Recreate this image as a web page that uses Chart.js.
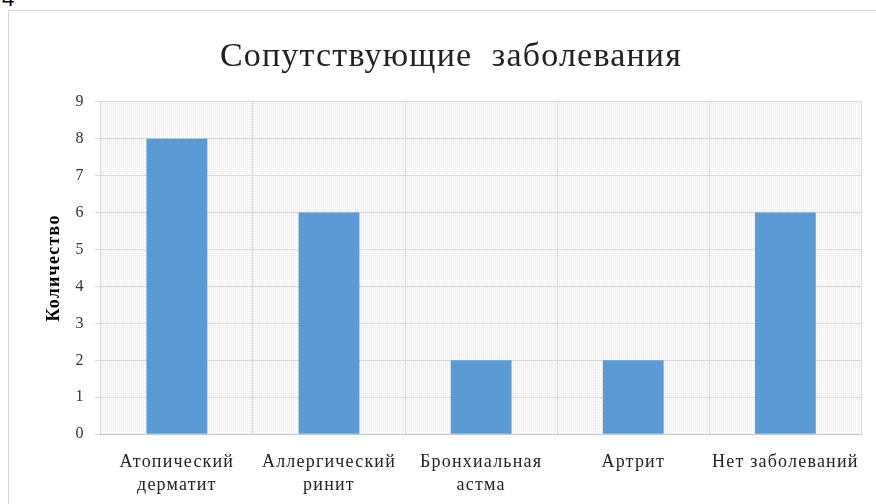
<!DOCTYPE html>
<html><head><meta charset="utf-8">
<script src="https://cdn.jsdelivr.net/npm/chart.js"></script>
<style>
html,body{margin:0;padding:0;background:#fff;width:876px;height:504px;overflow:hidden;}
#frame{position:absolute;left:8px;top:10px;width:880px;height:500px;border:1px solid #d4d4d4;box-sizing:border-box;}
#num{position:absolute;left:2px;top:-14px;font:22px "Liberation Sans",sans-serif;color:#000;}
#wrap{position:absolute;left:9px;top:11px;width:867px;height:506px;}
</style></head><body>
<div id="num">4</div>
<div id="frame"></div>
<div id="wrap"><canvas id="c"></canvas></div>
<script>
const categories = [["Атопический","дерматит"],["Аллергический","ринит"],["Бронхиальная","астма"],"Артрит","Нет заболеваний"];
const values = [8, 6, 2, 2, 6];
const titleText = "Сопутствующие  заболевания";
const yTitle = "Количество";

function makePattern(){
  const p = document.createElement('canvas'); p.width = 4; p.height = 4;
  const g = p.getContext('2d');
  g.fillStyle = '#ffffff'; g.fillRect(0,0,4,4);
  g.fillStyle = '#e6e6e6';
  g.fillRect(0,0,1,1); g.fillRect(2,2,1,1); g.fillRect(2,0,1,1); g.fillRect(0,2,1,1);
  g.fillStyle = '#f0f0f0';
  g.fillRect(1,1,1,1); g.fillRect(3,3,1,1);
  return g.createPattern(p,'repeat');
}
const spacingPlugin = {
  id:'sp',
  beforeUpdate(chart){ chart.ctx.letterSpacing = '1.2px'; },
  beforeLayout(chart){ chart.ctx.letterSpacing = '1.2px'; },
  beforeDraw(chart){ chart.ctx.letterSpacing = '1.2px'; }
};
const bgPlugin = {
  id:'bgp',
  beforeDraw(chart){
    const a = chart.chartArea, ctx = chart.ctx;
    ctx.save(); ctx.fillStyle = makePattern(); ctx.fillRect(a.left,a.top,a.right-a.left,a.bottom-a.top); ctx.restore();
  }
};
const serif = '"Liberation Serif","Times New Roman",serif';
new Chart(document.getElementById('c'), {
  type:'bar',
  data:{labels:categories, datasets:[{data:values, backgroundColor:'#5b9bd5', categoryPercentage:1, barPercentage:0.4}]},
  plugins:[spacingPlugin,bgPlugin],
  options:{
    responsive:true, maintainAspectRatio:false, animation:false,
    layout:{padding:{left:31,right:14,top:8,bottom:4}},
    plugins:{
      legend:{display:false}, tooltip:{enabled:false},
      title:{display:true, text:titleText, color:'#222', font:{family:serif, size:34, weight:'normal'}, padding:{top:18,bottom:24}}
    },
    scales:{
      y:{min:0,max:9,ticks:{stepSize:1,color:'#333',font:{family:serif,size:16},padding:10},
         grid:{color:'#d9d9d9',tickLength:6,drawTicks:true},border:{display:false},
         title:{display:true,text:yTitle,color:'#000',font:{family:serif,size:18,weight:'bold'},padding:{bottom:0}}},
      x:{ticks:{color:'#222',font:{family:serif,size:18,lineHeight:1.3},padding:16,maxRotation:0,autoSkip:false},
         grid:{offset:true,color:'#d9d9d9',drawTicks:false},border:{color:'#c8c8c8'}}
    }
  }
});
</script>
</body></html>
